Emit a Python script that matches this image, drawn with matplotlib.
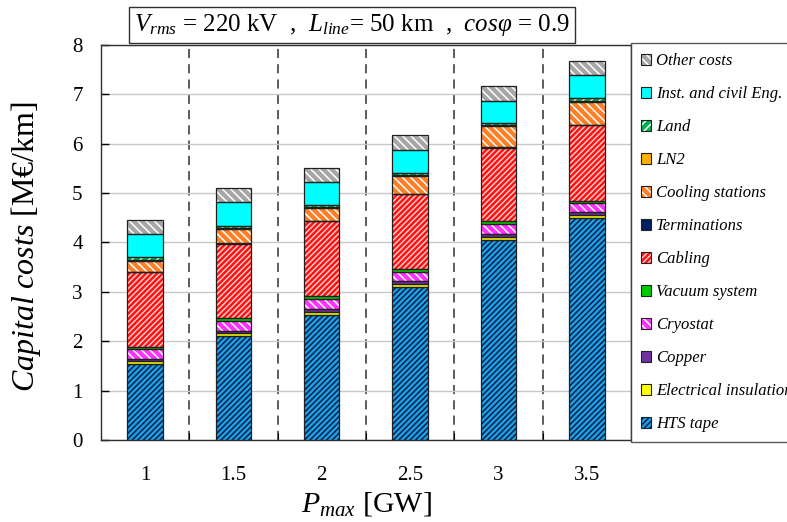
"""Stacked capital cost bars for an HTS line (Vrms = 220 kV, 50 km)."""

import matplotlib

matplotlib.use("Agg")
import matplotlib.pyplot as plt
import numpy as np
from matplotlib.patches import Patch

plt.rcParams["font.family"] = ["Liberation Serif", "DejaVu Serif"]
plt.rcParams["mathtext.fontset"] = "custom"
plt.rcParams["mathtext.rm"] = "Liberation Serif"
plt.rcParams["mathtext.it"] = "Liberation Serif:italic"
plt.rcParams["hatch.linewidth"] = 1.1

# 数据 (M€/km)
p_max = ["1", "1.5", "2", "2.5", "3", "3.5"]
hts_tape = [1.54, 2.10, 2.54, 3.10, 4.04, 4.49]
electrical_insulation = [0.07, 0.07, 0.06, 0.06, 0.07, 0.06]
copper = [0.04, 0.04, 0.06, 0.05, 0.07, 0.07]
cryostat = [0.19, 0.19, 0.20, 0.20, 0.19, 0.18]
vacuum_system = [0.05, 0.07, 0.05, 0.05, 0.06, 0.04]
cabling = [1.51, 1.50, 1.52, 1.52, 1.49, 1.53]
terminations = [0.01, 0.01, 0.01, 0.01, 0.01, 0.01]
cooling_stations = [0.22, 0.29, 0.25, 0.35, 0.42, 0.47]
ln2 = [0.02, 0.02, 0.02, 0.02, 0.02, 0.02]
land = [0.06, 0.05, 0.05, 0.05, 0.05, 0.05]
inst_civil = [0.46, 0.47, 0.46, 0.46, 0.45, 0.47]
other_costs = [0.28, 0.29, 0.29, 0.30, 0.30, 0.29]

# (label, values, face, hatch, hatch colour) from bottom to top
components = [
    ("HTS tape", hts_tape, "#1BA1E2", "//////", "#0B1F4F"),
    ("Electrical insulation", electrical_insulation, "#FFFF00", "", None),
    ("Copper", copper, "#7030A0", "", None),
    ("Cryostat", cryostat, "#FF33FF", "\\\\\\\\", "#FFFFFF"),
    ("Vacuum system", vacuum_system, "#00CC00", "", None),
    ("Cabling", cabling, "#FF1010", "//////", "#FFC8C8"),
    ("Terminations", terminations, "#002060", "", None),
    ("Cooling stations", cooling_stations, "#FF7F27", "\\\\\\\\", "#FFFFFF"),
    ("LN2", ln2, "#FFB000", "", None),
    ("Land", land, "#00B050", "////", "#FFFFFF"),
    ("Inst. and civil Eng.", inst_civil, "#00FFFF", "", None),
    ("Other costs", other_costs, "#A6A6A6", "\\\\\\\\", "#FFFFFF"),
]

fig = plt.figure(figsize=(7.87, 5.22), dpi=100)
ax = fig.add_axes([0.128, 0.157, 0.674, 0.757])

x = np.arange(len(p_max))
width = 0.4
bottom = np.zeros(len(p_max))
handles = []
for label, values, face, hatch, hcolor in components:
    values = np.array(values)
    # 先画填充和阴影线，再单独画黑色边框
    ax.bar(x, values, width, bottom=bottom, color=face, hatch=hatch,
           edgecolor=hcolor if hcolor else face, linewidth=0, zorder=3)
    ax.bar(x, values, width, bottom=bottom, facecolor="none",
           edgecolor="#202020", linewidth=0.9, zorder=4)
    fill = Patch(facecolor=face, hatch=hatch,
                 edgecolor=hcolor if hcolor else face, linewidth=0)
    frame = Patch(facecolor="none", edgecolor="#202020", linewidth=0.8)
    handles.append(((fill, frame), label))
    bottom += values

ax.set_xlim(-0.5, len(p_max) - 0.5)
ax.set_ylim(0, 8)
ax.set_yticks(range(9))
ax.yaxis.grid(True, color="#C8C8C8", linewidth=1.0, zorder=0)
for xb in np.arange(0.5, len(p_max) - 0.5):
    ax.axvline(xb, color="#303030", linestyle=(0, (6, 4)), linewidth=1.1, zorder=1)

ax.set_xticks(x)
ax.set_xticklabels(p_max)
ax.set_xticks(np.arange(0.5, len(p_max) - 0.5), minor=True)
ax.tick_params(axis="x", which="major", length=0, pad=19, labelsize=15)
ax.tick_params(axis="x", which="minor", direction="in", length=5, width=0.8)
ax.tick_params(axis="y", direction="in", length=6, width=1.0, pad=13, labelsize=15)
for sp in ax.spines.values():
    sp.set_linewidth(1.0)
    sp.set_color("#303030")

ax.set_ylabel(r"$\mathit{Capital\ costs}$ [M€/km]", fontsize=23)
ax.yaxis.set_label_coords(-0.109, 0.49)
ax.set_xlabel(r"$P_{max}$ [GW]", fontsize=21.5, labelpad=3)

leg = fig.legend(
    [h for h, _ in handles[::-1]],
    [lab for _, lab in handles[::-1]],
    loc="upper left",
    bbox_to_anchor=(0.8015, 0.918),
    frameon=True,
    fancybox=False,
    edgecolor="#303030",
    prop={"family": "Liberation Serif", "style": "italic", "size": 12},
    handlelength=0.6,
    handleheight=0.6,
    handletextpad=0.3,
    labelspacing=1.02,
    borderpad=0.62,
    borderaxespad=0,
)
leg.get_frame().set_linewidth(1.0)

fig.text(0.447, 0.952,
         r"$V_{rms}$ = 220 kV  ,  $L_{line}$= 50 km  ,  $cos\varphi$ = 0.9",
         ha="center", va="center", fontsize=18,
         bbox=dict(boxstyle="square,pad=0.2", facecolor="white",
                   edgecolor="#303030", linewidth=1.0))

fig.savefig("out.png", dpi=100)
